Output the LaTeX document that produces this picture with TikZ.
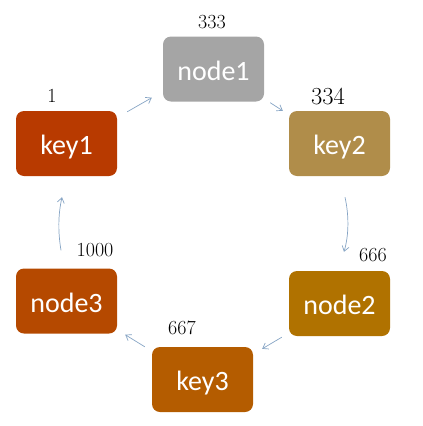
\documentclass[tikz,border=0pt]{standalone}
\usepackage{fontspec}
\newfontfamily\boxfont{Carlito}
\usetikzlibrary{arrows.meta,calc}
\definecolor{cnodeA}{HTML}{A5A5A5}
\definecolor{ckeyA}{HTML}{B83A00}
\definecolor{ckeyB}{HTML}{B08D4A}
\definecolor{cnodeB}{HTML}{B07200}
\definecolor{ckeyC}{HTML}{B45C00}
\definecolor{cnodeC}{HTML}{B54900}
\definecolor{carrow}{HTML}{86A4C4}
\tikzset{
  ringbox/.style={rounded corners=8pt, minimum width=101pt, minimum height=65pt,
    inner sep=0pt, text=white, font=\boxfont\fontsize{28}{30}\selectfont,
    text height=22pt, text depth=0pt},
  numlabel/.style={inner sep=0pt, font=\fontsize{20}{22}\selectfont},
  link/.style={draw=carrow, line width=0.7pt, -{Straight Barb[length=5pt,width=7pt]}}
}
\begin{document}
\begin{tikzpicture}[x=1pt,y=-1pt]
\useasboundingbox (0,0) rectangle (423,426);
\node[ringbox, fill=cnodeA] (node1) at (213.5,69) {node1};
\node[ringbox, fill=ckeyA] (key1) at (66.5,143.5) {key1};
\node[ringbox, fill=ckeyB] (key2) at (339.5,143.5) {key2};
\node[ringbox, fill=cnodeC] (node3) at (66.5,301) {node3};
\node[ringbox, fill=cnodeB] (node2) at (339.5,303.5) {node2};
\node[ringbox, fill=ckeyC] (key3) at (202.5,379.5) {key3};

\node[numlabel] (l333) at (212,22) {333};
\node[numlabel] (l1) at (52,96) {1};
\node[numlabel, font=\fontsize{24.5}{26}\selectfont] (l334) at (328,96) {334};
\node[numlabel] (l1000) at (95,250) {1000};
\node[numlabel] (l666) at (373,255) {666};
\node[numlabel] (l667) at (182,328) {667};

\draw[link] ($(key1.north east)+(10,1)$) -- ($(node1.south west)+(-11,-4)$);
\draw[link] ($(node1.south east)+(6,1)$) -- ($(key2.north west)+(-6,0)$);
\draw[link] ($(key2.south)+(5.5,21)$) .. controls +(4,18) and +(5,-17) .. ($(node2.north)+(4.5,-19)$);
\draw[link] ($(node2.south west)+(-7,1)$) -- ($(key3.north east)+(9,2)$);
\draw[link] ($(key3.north west)+(-7,0)$) -- ($(node3.south east)+(8,1)$);
\draw[link] ($(node3.north)+(-5.5,-18)$) .. controls +(-3,-18) and +(-4,18) .. ($(key1.south)+(-4.5,21)$);
\end{tikzpicture}
\end{document}
